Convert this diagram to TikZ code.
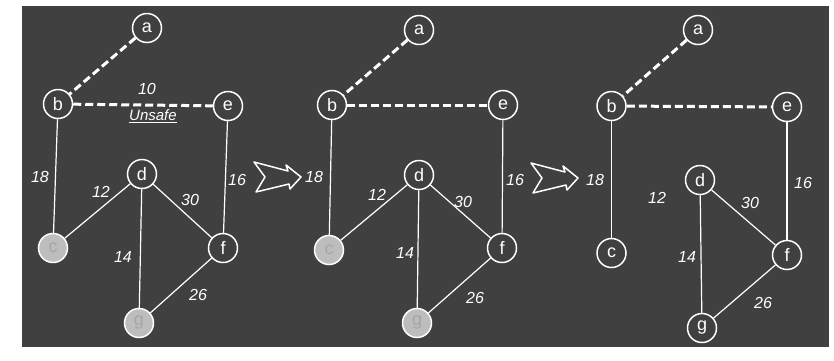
\documentclass[tikz,border=0pt]{standalone}
\usepackage{fontspec}
\setmainfont{Liberation Sans}
\begin{document}
\begin{tikzpicture}[x=1pt,y=-1pt,
  vtx/.style={circle,draw=white,line width=1.5pt,fill=bgdark,text=white,minimum size=29pt,inner sep=0pt,font=\fontsize{18}{18}\selectfont},
  lit/.style={vtx,fill=lightnode,text=gray!70},
  edge/.style={white,line width=1.2pt},
  tree/.style={white,line width=3pt,dash pattern=on 8pt off 4pt},
  wlab/.style={text=white,font=\fontsize{16}{16}\selectfont\itshape,inner sep=1pt},
  bigarrow/.style={draw=white,line width=1.5pt,line join=round,fill=none}]
\definecolor{bgdark}{HTML}{404040}
\definecolor{lightnode}{HTML}{BDBDBD}
\useasboundingbox (0,0) rectangle (834,360);
\fill[white] (0,0) rectangle (834,360);
\fill[bgdark] (22,6) rectangle (829,347);

% ---------- panel 1 ----------
\node[vtx] (a1) at (147,28) {a};
\node[vtx] (b1) at (58,104) {b};
\node[vtx] (e1) at (228,106) {e};
\node[vtx] (d1) at (142,174) {d};
\node[lit] (c1) at (53,248) {c};
\node[vtx] (f1) at (223,248) {f};
\node[lit] (g1) at (139,323) {g};
\draw[tree] (a1) -- (b1);
\draw[tree] (b1) -- (e1);
\draw[edge] (b1) -- (c1);
\draw[edge] (c1) -- (d1);
\draw[edge] (d1) -- (g1);
\draw[edge] (d1) -- (f1);
\draw[edge] (e1) -- (f1);
\draw[edge] (f1) -- (g1);
\node[wlab] (l1ten) at (147,89) {10};
\node[wlab,font=\fontsize{15}{15}\selectfont\itshape] (l1uns) at (153,116) {\underline{Unsafe}};
\node[wlab] (l1a) at (40,177) {18};
\node[wlab] (l1b) at (101,192) {12};
\node[wlab] (l1c) at (190,200) {30};
\node[wlab] (l1d) at (237,180) {16};
\node[wlab] (l1e) at (123,257) {14};
\node[wlab] (l1f) at (198,295) {26};

% ---------- panel 2 ----------
\node[vtx] (a2) at (419,30) {a};
\node[vtx] (b2) at (332,105) {b};
\node[vtx] (e2) at (503,105) {e};
\node[vtx] (d2) at (419,175) {d};
\node[lit] (c2) at (329,250) {c};
\node[vtx] (f2) at (502,248) {f};
\node[lit] (g2) at (417,323) {g};
\draw[tree] (a2) -- (b2);
\draw[tree] (b2) -- (e2);
\draw[edge] (b2) -- (c2);
\draw[edge] (c2) -- (d2);
\draw[edge] (d2) -- (g2);
\draw[edge] (d2) -- (f2);
\draw[edge] (e2) -- (f2);
\draw[edge] (f2) -- (g2);
\node[wlab] (l2a) at (314,177) {18};
\node[wlab] (l2b) at (377,195) {12};
\node[wlab] (l2c) at (463,202) {30};
\node[wlab] (l2d) at (515,180) {16};
\node[wlab] (l2e) at (405,253) {14};
\node[wlab] (l2f) at (475,298) {26};

% ---------- panel 3 ----------
\node[vtx] (a3) at (698,30) {a};
\node[vtx] (b3) at (611.5,106) {b};
\node[vtx] (e3) at (787,107) {e};
\node[vtx] (d3) at (700,180) {d};
\node[vtx] (c3) at (611.5,253) {c};
\node[vtx] (f3) at (787,255) {f};
\node[vtx] (g3) at (702,328) {g};
\draw[tree] (a3) -- (b3);
\draw[tree] (b3) -- (e3);
\draw[edge] (b3) -- (c3);
\draw[edge] (d3) -- (g3);
\draw[edge] (d3) -- (f3);
\draw[edge] (e3) -- (f3);
\draw[edge] (f3) -- (g3);
\node[wlab] (l3a) at (595,180) {18};
\node[wlab] (l3b) at (657,198) {12};
\node[wlab] (l3c) at (750,203) {30};
\node[wlab] (l3d) at (803,183) {16};
\node[wlab] (l3e) at (687,257) {14};
\node[wlab] (l3f) at (763,303) {26};

% ---------- hollow arrows ----------
\foreach \tx/\ty in {301/177, 578/178} {
  \draw[bigarrow,shift={(\tx,\ty)}]
    (-47,-15) -- (-13,-6) -- (-15,-12) -- (0,0) -- (-11,12) -- (-12,7)
    -- (-45,15) -- (-36,0) -- cycle;
}
\end{tikzpicture}
\end{document}
